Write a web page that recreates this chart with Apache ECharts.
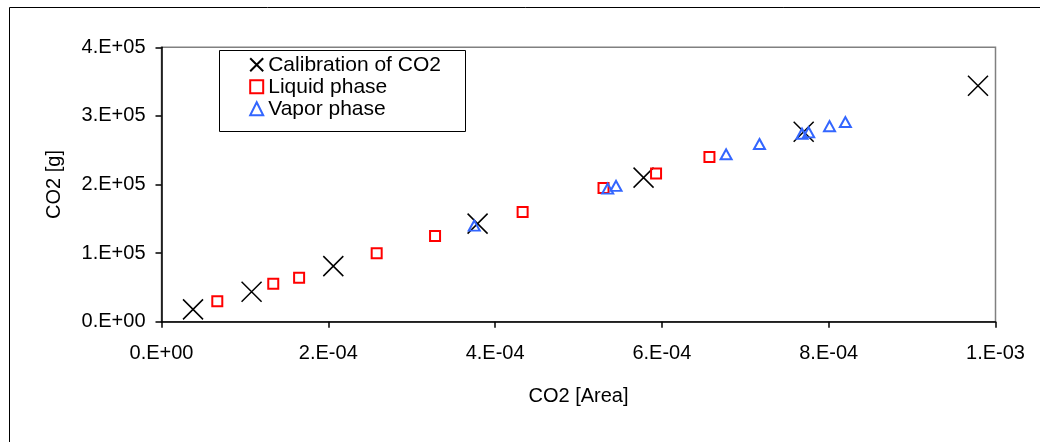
<!DOCTYPE html>
<html>
<head>
<meta charset="utf-8">
<script src="https://cdn.jsdelivr.net/npm/echarts@6/dist/echarts.min.js"></script>
<style>
  html, body { margin: 0; padding: 0; background: #fff; }
  #chart { width: 1040px; height: 442px; }
</style>
</head>
<body>
<div id="chart"></div>
<script>
// Calibration standards: [area, grams]
const calibration = [
  [3.78e-5, 1.8e4], [1.08e-4, 4.37e4], [2.06e-4, 8.1e4], [3.79e-4, 1.43e5],
  [5.78e-4, 2.10e5], [7.70e-4, 2.77e5], [9.79e-4, 3.44e5]
];
// Liquid phase samples
const liquid = [
  [6.69e-5, 2.97e4], [1.34e-4, 5.54e4], [1.65e-4, 6.41e4], [2.58e-4, 9.97e4],
  [3.28e-4, 1.25e5], [4.33e-4, 1.60e5], [5.30e-4, 1.95e5], [5.93e-4, 2.16e5],
  [6.57e-4, 2.40e5]
];
// Vapor phase samples
const vapor = [
  [3.75e-4, 1.40e5], [5.35e-4, 1.94e5], [5.45e-4, 1.98e5], [6.77e-4, 2.44e5],
  [7.17e-4, 2.59e5], [7.68e-4, 2.74e5], [7.76e-4, 2.76e5], [8.01e-4, 2.85e5],
  [8.20e-4, 2.91e5]
];
const xTickLabels = ['0.E+00', '2.E-04', '4.E-04', '6.E-04', '8.E-04', '1.E-03'];
const yTickLabels = ['0.E+00', '1.E+05', '2.E+05', '3.E+05', '4.E+05'];

const FONT = 'Arial, "Liberation Sans", sans-serif';
const chart = echarts.init(document.getElementById('chart'), null, { renderer: 'canvas' });

chart.setOption({
  backgroundColor: '#fff',
  animation: false,
  textStyle: { fontFamily: FONT, color: '#000' },
  graphic: [
    { type: 'rect', z: -1, silent: true,
      shape: { x: 9.5, y: 7.5, width: 1100, height: 500 },
      style: { fill: 'none', stroke: '#000', lineWidth: 1 } },
    { type: 'rect', z: 1, silent: true,
      shape: { x: 219.5, y: 50.5, width: 246, height: 81 },
      style: { fill: '#fff', stroke: '#000', lineWidth: 1 } }
  ],
  grid: {
    left: 161.5, top: 47.3, right: 44.5, bottom: 120.3,
    show: true, borderColor: '#808080', borderWidth: 1.5, backgroundColor: 'transparent'
  },
  legend: {
    orient: 'vertical', left: 247.7, top: 54.3, z: 5,
    itemWidth: 13, itemHeight: 13, itemGap: 1, padding: 0,
    textStyle: { fontFamily: FONT, fontSize: 21, color: '#000', lineHeight: 20 },
    data: ['Calibration of CO2', 'Liquid phase', 'Vapor phase']
  },
  xAxis: {
    type: 'value', min: 0, max: 1e-3, interval: 2e-4,
    name: 'CO2 [Area]', nameLocation: 'middle', nameGap: 65,
    nameTextStyle: { fontFamily: FONT, fontSize: 20, color: '#000' },
    axisLine: { show: true, lineStyle: { color: '#000', width: 1.5 } },
    axisTick: { show: true, inside: false, length: 6, lineStyle: { color: '#000', width: 1.5 } },
    axisLabel: { margin: 22, fontFamily: FONT, fontSize: 20, color: '#000',
      formatter: (v, i) => xTickLabels[i] },
    splitLine: { show: false }
  },
  yAxis: {
    type: 'value', min: 0, max: 4e5, interval: 1e5,
    name: 'CO2 [g]', nameLocation: 'middle', nameGap: 97, nameRotate: 90,
    nameTextStyle: { fontFamily: FONT, fontSize: 20, color: '#000' },
    axisLine: { show: true, lineStyle: { color: '#000', width: 1.5 } },
    axisTick: { show: true, inside: false, length: 6, lineStyle: { color: '#000', width: 1.5 } },
    axisLabel: { margin: 16, fontFamily: FONT, fontSize: 20, color: '#000',
      formatter: (v, i) => yTickLabels[i] },
    splitLine: { show: false }
  },
  series: [
    {
      name: 'Calibration of CO2', type: 'scatter', data: calibration,
      symbol: 'path://M0,0L10,10M10,0L0,10', symbolSize: 20,
      itemStyle: { color: 'none', borderColor: '#000', borderWidth: 1.5, opacity: 1 }
    },
    {
      name: 'Liquid phase', type: 'scatter', data: liquid,
      symbol: 'rect', symbolSize: 10,
      itemStyle: { color: 'none', borderColor: '#ff0000', borderWidth: 2, opacity: 1 }
    },
    {
      name: 'Vapor phase', type: 'scatter', data: vapor,
      symbol: 'triangle', symbolSize: [11, 10],
      itemStyle: { color: 'none', borderColor: '#3366ff', borderWidth: 2, opacity: 1 }
    }
  ]
});
</script>
</body>
</html>
